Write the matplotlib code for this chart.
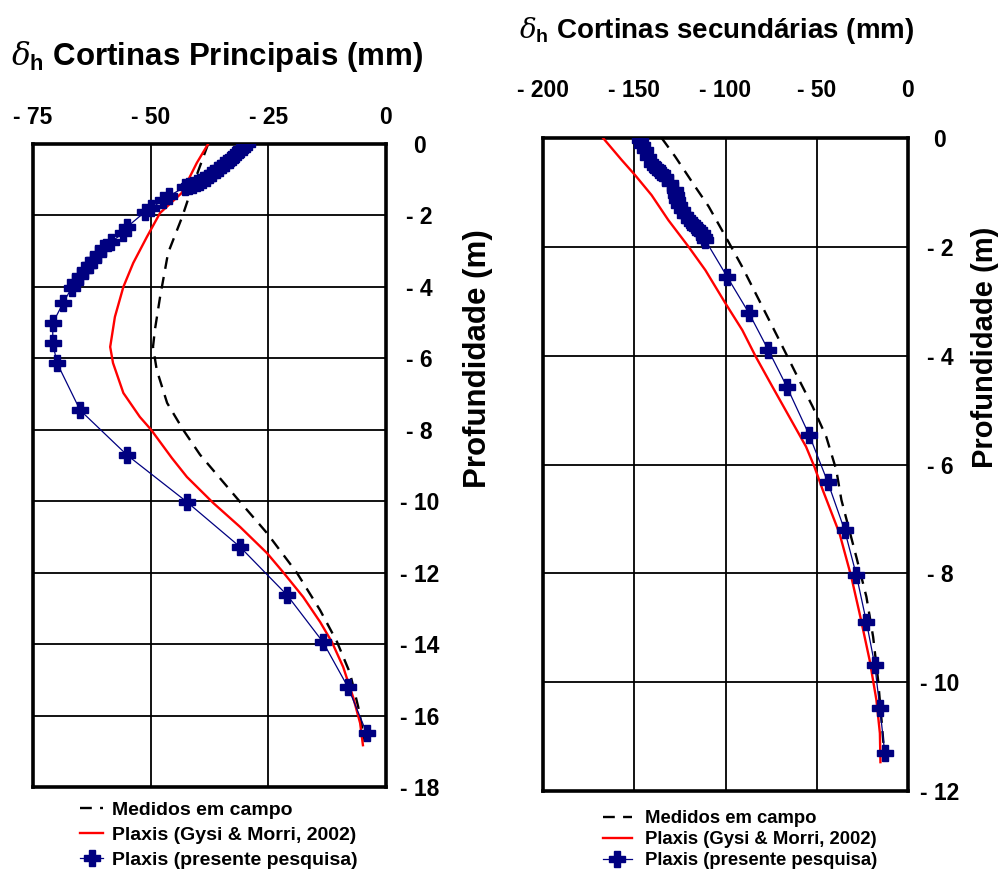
import numpy as np
import matplotlib
matplotlib.use("Agg")
from matplotlib import pyplot as plt

plt.rcParams['font.family'] = ['Liberation Sans', 'DejaVu Sans']
plt.rcParams['font.weight'] = 'bold'
plt.rcParams['mathtext.fontset'] = 'custom'
plt.rcParams['mathtext.it'] = 'DejaVu Serif:italic:normal'
plt.rcParams['mathtext.rm'] = 'Liberation Sans'

# --- Cortinas principais (left) ---
prin_med_x = [-37.8, -41.6, -43.3, -46.3, -48.0, -49.1, -49.5, -48.7, -46.5, -43.1, -39.5,
              -31.0, -25.3, -18.9, -14.0, -10.4, -7.65, -5.9, -4.5]
prin_med_z = [0.0, -1.37, -2.04, -3.05, -4.28, -5.2, -5.68, -6.33, -7.25, -8.0, -8.7,
              -10.02, -10.89, -12.01, -13.05, -13.94, -14.81, -15.76, -16.74]

prin_gysi_x = [-37.8, -40.2, -43.4, -48.0, -50.8, -53.7, -55.8, -57.6, -58.6, -58.0, -55.8,
               -52.3, -49.9, -45.5, -42.3, -36.7, -31.0, -25.3, -21.9, -17.6, -14.0,
               -11.5, -9.1, -7.0, -5.5, -4.9]
prin_gysi_z = [0.0, -0.53, -1.37, -1.93, -2.6, -3.33, -4.0, -4.84, -5.68, -6.13, -6.97,
               -7.64, -8.0, -8.79, -9.32, -10.05, -10.72, -11.45, -11.98, -12.68, -13.38,
               -13.94, -14.64, -15.48, -16.21, -16.83]

prin_pesq_x = [-29.5, -30.2, -31.0, -31.8, -32.5, -33.2, -34.0, -34.6, -35.3, -36.0, -36.7,
               -37.4, -38.1, -38.8, -39.5, -40.2, -41.0, -41.8, -42.7,
               -46.0, -47.3, -50.0, -51.2, -55.0, -55.9, -58.5, -60.1, -61.2, -62.2, -63.1,
               -64.0, -65.0, -66.1, -66.8, -68.6,
               -70.8, -70.8, -69.9, -65.0, -55.0, -42.3, -31.0, -21.0, -13.4, -8.1, -4.1]
prin_pesq_z = [0.0, -0.09, -0.18, -0.27, -0.36, -0.44, -0.52, -0.6, -0.67, -0.74, -0.81,
               -0.88, -0.95, -1.0, -1.05, -1.1, -1.15, -1.18, -1.2,
               -1.45, -1.57, -1.8, -1.9, -2.32, -2.5, -2.75, -2.91, -3.08, -3.25, -3.39,
               -3.53, -3.7, -3.86, -4.03, -4.45,
               -5.01, -5.57, -6.13, -7.45, -8.71, -10.02, -11.28, -12.63, -13.94, -15.2, -16.49]

prin_xticks = [-75, -50, -25, 0]
prin_xlabels = ['- 75', '- 50', '- 25', '0']
prin_zticks = [0, -2, -4, -6, -8, -10, -12, -14, -16, -18]

# --- Cortinas secundarias (right) ---
sec_med_x = [-135.0, -127.6, -116.5, -109.2, -100.0, -90.8, -79.8, -70.6, -61.4, -52.2,
             -44.8, -39.3, -36.5, -28.3, -22.8, -19.1, -16.4, -14.5, -12.7]
sec_med_z = [0.0, -0.34, -0.9, -1.26, -1.81, -2.37, -3.1, -3.71, -4.33, -4.94,
             -5.49, -6.1, -6.65, -7.7, -8.43, -9.17, -9.96, -10.7, -11.43]

sec_gysi_x = [-167.1, -157.0, -149.6, -140.5, -131.3, -120.2, -111.0, -100.0, -90.8, -83.4,
              -74.3, -65.1, -55.9, -51.3, -46.7, -37.5, -31.1, -26.5, -21.0, -17.3, -15.4, -15.1]
sec_gysi_z = [0.0, -0.4, -0.68, -1.05, -1.51, -2.0, -2.43, -3.04, -3.53, -4.02,
              -4.57, -5.12, -5.67, -6.04, -6.47, -7.27, -8.06, -8.74, -9.6, -10.33, -10.94, -11.47]

sec_pesq_x = [-146.9, -145.5, -144.1, -142.3, -140.5, -138.6, -136.8, -134.9, -133.1,
              -130.3, -127.6, -127.1, -126.7, -125.3, -124.0, -122.1, -120.2, -118.3,
              -116.5, -114.7, -112.9, -111.9, -111.0,
              -99.1, -87.1, -76.5, -66.4, -54.1, -44.0, -34.7,
              -28.3, -22.8, -18.2, -15.4, -12.7]
sec_pesq_z = [-0.04, -0.13, -0.22, -0.35, -0.47, -0.53, -0.59, -0.65, -0.71,
              -0.83, -0.96, -1.05, -1.14, -1.23, -1.32, -1.42, -1.51, -1.57,
              -1.63, -1.69, -1.75, -1.82, -1.88,
              -2.55, -3.22, -3.9, -4.57, -5.46, -6.32, -7.21,
              -8.03, -8.89, -9.69, -10.48, -11.31]

sec_xticks = [-200, -150, -100, -50, 0]
sec_xlabels = ['- 200', '- 150', '- 100', '- 50', '0']
sec_zticks = [0, -2, -4, -6, -8, -10, -12]

legend_labels = ['Medidos em campo', 'Plaxis (Gysi & Morri, 2002)', 'Plaxis (presente pesquisa)']


def zlabels(ticks):
    return ['0' if t == 0 else '- %d' % abs(t) for t in ticks]


def draw(ax, med_x, med_z, gysi_x, gysi_z, pesq_x, pesq_z):
    ax.plot(med_x, med_z, color='black', lw=1.7, ls=(0, (5, 3.5)), zorder=3)
    ax.plot(gysi_x, gysi_z, color='red', lw=1.7, zorder=4)
    ax.plot(pesq_x, pesq_z, color='#000080', lw=0.9, marker='P', ms=12,
            mec='#000080', mfc='#000080', zorder=5)
    ax.grid(color='black', lw=1.3)
    ax.set_axisbelow(True)
    for s in ax.spines.values():
        s.set_linewidth(2.6)
    ax.xaxis.tick_top()
    ax.yaxis.tick_right()


fig = plt.figure(figsize=(10.02, 8.73), dpi=100)

ax1 = fig.add_axes([33 / 1002, 1 - 787 / 873, 353 / 1002, 643 / 873])
draw(ax1, prin_med_x, prin_med_z, prin_gysi_x, prin_gysi_z, prin_pesq_x, prin_pesq_z)
ax1.set_xlim(-75, 0)
ax1.set_ylim(-18, 0)
ax1.set_xticks(prin_xticks)
ax1.set_xticklabels(prin_xlabels)
ax1.set_yticks(prin_zticks)
ax1.set_yticklabels(zlabels(prin_zticks))
ax1.tick_params(axis='x', length=0, labelsize=16.5, pad=11)
ax1.tick_params(axis='y', length=0, labelsize=16.5, pad=24)
for lbl in ax1.get_yticklabels():
    lbl.set_horizontalalignment('center')

ax2 = fig.add_axes([543 / 1002, 1 - 791 / 873, 365 / 1002, 653 / 873])
draw(ax2, sec_med_x, sec_med_z, sec_gysi_x, sec_gysi_z, sec_pesq_x, sec_pesq_z)
ax2.set_xlim(-200, 0)
ax2.set_ylim(-12, 0)
ax2.set_xticks(sec_xticks)
ax2.set_xticklabels(sec_xlabels)
ax2.set_yticks(sec_zticks)
ax2.set_yticklabels(zlabels(sec_zticks))
ax2.tick_params(axis='x', length=0, labelsize=16.5, pad=26)
ax2.tick_params(axis='y', length=0, labelsize=16.5, pad=23)
for lbl in ax2.get_yticklabels():
    lbl.set_horizontalalignment('center')

# titles (x axis labels sit above the plots)
fig.text(11 / 1002, 1 - 57 / 873, r'$\delta_{\rm h}$ Cortinas Principais (mm)',
         fontsize=22.5, va='center', ha='left')
fig.text(519 / 1002, 1 - 30 / 873, r'$\delta_{\rm h}$ Cortinas secundárias (mm)',
         fontsize=20, va='center', ha='left')

fig.text(478 / 1002, 1 - 359 / 873, 'Profundidade (m)', rotation=90,
         fontsize=22.5, va='center', ha='center')
fig.text(985 / 1002, 1 - 347 / 873, 'Profundidade (m)', rotation=90,
         fontsize=21, va='center', ha='center')

# legends
h1 = ax1.get_lines()
fig.legend(h1, legend_labels, loc='upper left', bbox_to_anchor=(80 / 1002, 1 - 801 / 873),
           frameon=False, fontsize=14, handlelength=1.2, handletextpad=0.45,
           labelspacing=0.38, borderpad=0, borderaxespad=0)
h2 = ax2.get_lines()
fig.legend(h2, legend_labels, loc='upper left', bbox_to_anchor=(603 / 1002, 1 - 810 / 873),
           frameon=False, fontsize=13.3, handlelength=1.55, handletextpad=0.7,
           labelspacing=0.22, borderpad=0, borderaxespad=0)

fig.savefig('out.png', dpi=100)
